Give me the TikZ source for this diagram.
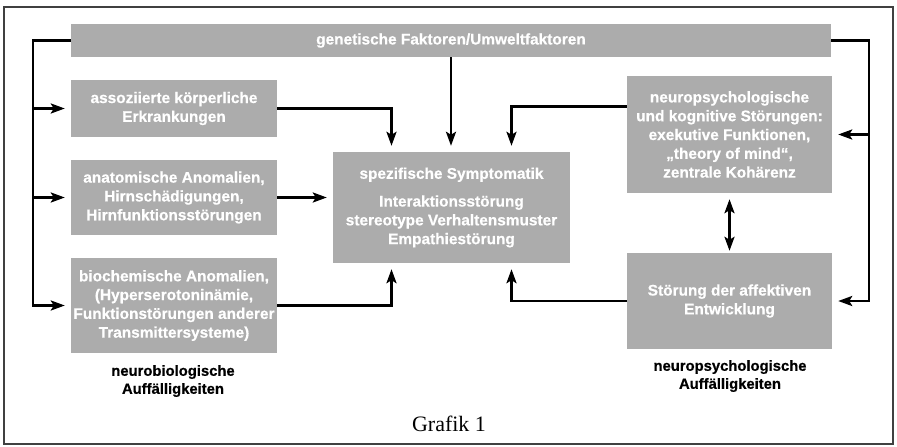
\documentclass[tikz,border=0pt]{standalone}
\usepackage{fontspec}
\setmainfont{Liberation Serif}
\newfontfamily\boxfont[BoldFeatures={FakeBold=0.6}]{Liberation Sans}
\usetikzlibrary{arrows.meta}
\definecolor{boxgray}{RGB}{172,172,172}

\begin{document}
\begin{tikzpicture}
  [x=1pt,y=-1pt,
   box/.style={rectangle,fill=boxgray,text=white,align=center,inner sep=0pt,
     font=\boxfont\bfseries\fontsize{15.4}{18.8}\selectfont},
   lbl/.style={align=center,font=\boxfont\bfseries\fontsize{14.8}{18}\selectfont},
   tip/.style={-{Stealth[length=14pt,width=10pt,inset=3pt]}},
   arr/.style={line width=2.6pt,tip,shorten >=6pt}]
  \useasboundingbox (0,0) rectangle (897,447);
  \draw[line width=1.2pt,black!75] (4,7) rectangle (893,444);

  \node[box,minimum width=760,minimum height=33] (bar) at (451,40.5) {genetische Faktoren/Umweltfaktoren};
  \node[box,minimum width=206,minimum height=57] (koerper) at (174,108.5) {assoziierte körperliche\\Erkrankungen};
  \node[box,minimum width=206,minimum height=75] (anatom) at (174,197.5) {anatomische Anomalien,\\Hirnschädigungen,\\Hirnfunktionsstörungen};
  \node[box,minimum width=206,minimum height=95] (biochem) at (174,305.5) {biochemische Anomalien,\\(Hyperserotoninämie,\\Funktionstörungen anderer\\Transmittersysteme)};
  \node[box,minimum width=237,minimum height=111] (sympt) at (451.5,207.5) {spezifische Symptomatik\\[9pt]Interaktionsstörung\\stereotype Verhaltensmuster\\Empathiestörung};
  \node[box,minimum width=205,minimum height=117] (neuro) at (729.5,134.5) {neuropsychologische\\und kognitive Störungen:\\exekutive Funktionen,\\„theory of mind“,\\zentrale Kohärenz};
  \node[box,minimum width=205,minimum height=96] (affekt) at (729.5,301) {Störung der affektiven\\Entwicklung};

  \node[lbl] (nbio) at (173,381) {neurobiologische\\Auffälligkeiten};
  \node[lbl] (npsy) at (730,376) {neuropsychologische\\Auffälligkeiten};
  \node[font=\fontsize{22}{26}\selectfont] (grafik) at (449,424) {Grafik 1};

  \coordinate (ltrunk) at (33,0);
  \coordinate (rtrunk) at (869,0);

  % linke Seite
  \draw[arr] (bar.west) -| (ltrunk |- biochem) -- (biochem.west);
  \foreach \b in {koerper,anatom}
    \draw[arr] (ltrunk |- \b) -- (\b.west);

  % rechte Seite
  \draw[arr] (bar.east) -| (rtrunk |- affekt) -- (affekt.east);
  \draw[arr] (rtrunk |- neuro) -- (neuro.east);

  % in die Mitte
  \draw[arr] (bar.south) -- (bar.south |- sympt.north);
  \draw[arr] (koerper.east) -| ([xshift=-60pt]sympt.north);
  \draw[arr] (anatom.east) -- (anatom.east -| sympt.west);
  \draw[arr] (biochem.east) -| ([xshift=-60pt]sympt.south);
  \draw[arr] ([yshift=28pt]neuro.west) -| ([xshift=60pt]sympt.north);
  \draw[arr] (affekt.west) -| ([xshift=60pt]sympt.south);
  \draw[arr,{Stealth[length=14pt,width=10pt,inset=3pt]}-{Stealth[length=14pt,width=10pt,inset=3pt]},shorten <=6pt,shorten >=2pt]
    (neuro.south) -- (affekt.north);
\end{tikzpicture}
\end{document}
